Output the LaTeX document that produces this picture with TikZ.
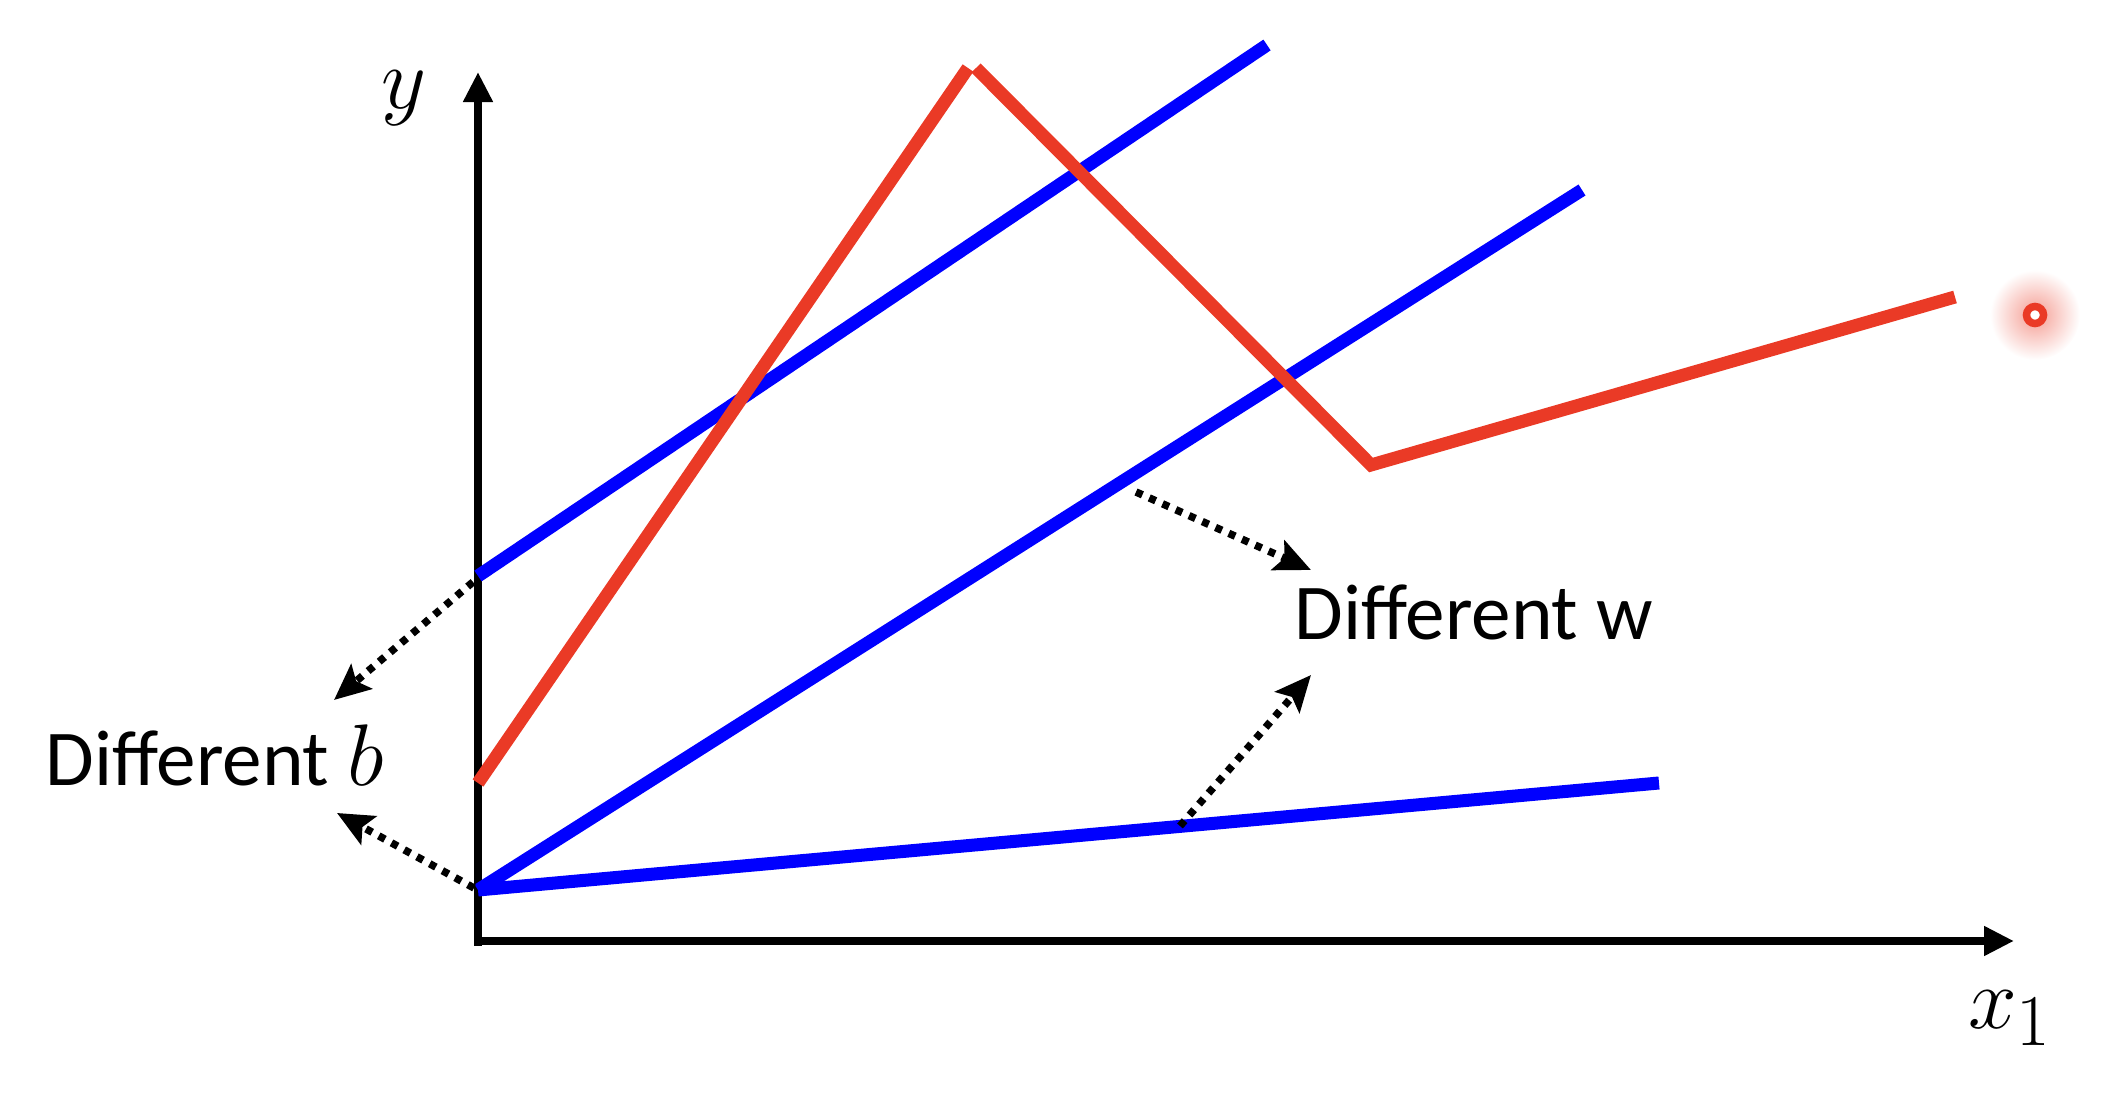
\documentclass[tikz,border=0pt]{standalone}
\usepackage{fontspec}
\setmainfont{Carlito}
\usetikzlibrary{arrows.meta}
\definecolor{lred}{RGB}{234,58,38}
\definecolor{lblue}{RGB}{0,0,255}
\begin{document}
\begin{tikzpicture}[x=0.01cm,y=-0.01cm,
  axis/.style={line width=0.085cm,-{Triangle[length=0.3cm,width=0.28cm]}},
  bline/.style={lblue,line width=0.13cm},
  rline/.style={lred,line width=0.13cm},
  dotarrow/.style={line width=0.075cm,dash pattern=on 0.07cm off 0.075cm,-{Stealth[length=0.36cm,width=0.32cm,inset=0.07cm]}},
  lbl/.style={font=\fontsize{22.5}{27}\selectfont,inner sep=0pt},
  mlbl/.style={font=\fontsize{30}{34}\selectfont,inner sep=0pt}]
\useasboundingbox (0,0) rectangle (2124,1098);
% axes
\coordinate (O) at (478,941);
\coordinate (ytop) at (478,72);
\coordinate (xend) at (2014,941);
\draw[axis] (478,946) -- (ytop);
\draw[axis] (474,941) -- (xend);
\node[mlbl,font=\fontsize{33}{36}\selectfont] (ylab) at (404,98) {$y$};
\node[mlbl] (xlab) at (2010,1018) {$x_1$};
% blue lines
\coordinate (b1s) at (478,576);
\coordinate (b1e) at (1267,45);
\coordinate (b0) at (478,890);
\coordinate (b2e) at (1582,190);
\coordinate (b3e) at (1659,783);
\draw[bline] (b1s) -- (b1e);
\draw[bline] (b0) -- (b2e);
\draw[bline] (b0) -- (b3e);
% red polyline
\coordinate (r0) at (478,783);
\coordinate (r1) at (968,68);
\coordinate (r2) at (976,68);
\coordinate (r3) at (1371,465);
\coordinate (r4) at (1955,297);
\draw[rline] (r0) -- (r1);
\draw[rline] (r2) -- (r3) -- (r4);
% red pointer dot
\shade[inner color=lred!50, outer color=white] (2035,315) circle (0.45cm);
\draw[lred,line width=0.075cm,fill=white] (2035,315) circle (0.085cm);
% labels
\node[lbl,anchor=base west] (diffb) at (45,786) {Different \fontsize{26}{30}\selectfont$b$};
\node[lbl,anchor=base west] (diffw) at (1294,640) {Different w};
% dotted arrows
\coordinate (bs1) at (473,582);
\coordinate (bt1) at (334,700);
\coordinate (bs2) at (474,888);
\coordinate (bt2) at (337,813);
\coordinate (ws1) at (1136,492);
\coordinate (wt1) at (1311,570);
\coordinate (ws2) at (1180,826);
\coordinate (wt2) at (1311,675);
\draw[dotarrow] (bs1) -- (bt1);
\draw[dotarrow] (bs2) -- (bt2);
\draw[dotarrow] (ws1) -- (wt1);
\draw[dotarrow] (ws2) -- (wt2);
\end{tikzpicture}
\end{document}
